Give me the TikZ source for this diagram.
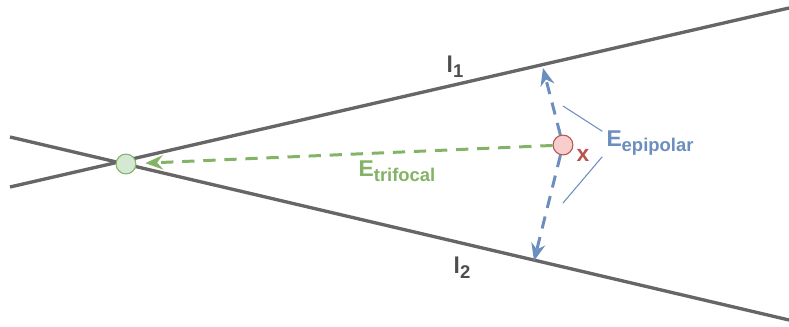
\documentclass[tikz,border=0pt]{standalone}
\usepackage{fontspec}
\setmainfont{Liberation Sans}
\usetikzlibrary{arrows.meta}
\definecolor{linegray}{HTML}{666666}
\definecolor{labelgray}{HTML}{4D4D4D}
\definecolor{epiblue}{HTML}{6C8EBF}
\definecolor{trigreen}{HTML}{82B366}
\definecolor{trifill}{HTML}{D5E8D4}
\definecolor{ptred}{HTML}{B85450}
\definecolor{ptfill}{HTML}{F8CECC}
% big letter with a lowered, smaller tail
\newcommand{\sublabel}[2]{{\bfseries\fontsize{13}{13}\selectfont #1\raisebox{-0.45ex}{\fontsize{10.5}{10.5}\selectfont #2}}}

\begin{document}
\begin{tikzpicture}[x=0.02cm,y=-0.02cm,>=Stealth,
    epiline/.style={linegray,line width=1.9pt},
    dot/.style={circle,minimum size=11.3pt,inner sep=0pt,line width=0.6pt},
    errarrow/.style={->,line width=1.7pt,dash pattern=on 7pt off 5pt,
      arrows={-Stealth[length=10pt,width=8pt]}},
    pointer/.style={epiblue,line width=0.6pt}]
    \useasboundingbox (0,0) rectangle (789,327);
    % Pixel coords of the reference: x to the right, y downwards
    \coordinate (L1a) at (10,187);
    \coordinate (L1b) at (789,8);
    \coordinate (L2a) at (10,137);
    \coordinate (L2b) at (789,320);
    \coordinate (T1) at (543,68);   % tip on l1
    \coordinate (T2) at (534,261);  % tip on l2
    % Epipolar lines
    \draw[epiline] (L1a) -- (L1b);
    \draw[epiline] (L2a) -- (L2b);
    \node[labelgray] (l1) at (455,67) {\sublabel{l}{1}};
    \node[labelgray] (l2) at (462,268) {\sublabel{l}{2}};
    % Points
    \node[dot,draw=trigreen,fill=trifill] (ep) at (126,164) {};
    \node[dot,draw=ptred,fill=ptfill] (pt) at (563,145) {};
    \node[ptred,font=\bfseries\fontsize{13}{13}\selectfont] (xl) at (583,155) {x};
    % Errors
    \draw[errarrow,trigreen,shorten >=5pt] (pt) -- (ep);
    \draw[errarrow,epiblue] (pt) -- (T1);
    \draw[errarrow,epiblue] (pt) -- (T2);
    \node[trigreen] (etri) at (397,171) {\sublabel{E}{trifocal}};
    \node[epiblue] (eepi) at (650,143) {\sublabel{E}{epipolar}};
    \coordinate (P1) at (563,106);
    \coordinate (P2) at (563,203);
    \draw[pointer] (eepi.north west) ++(2,7) -- (P1);
    \draw[pointer] (eepi.south west) ++(2,-5) -- (P2);
\end{tikzpicture}
\end{document}
